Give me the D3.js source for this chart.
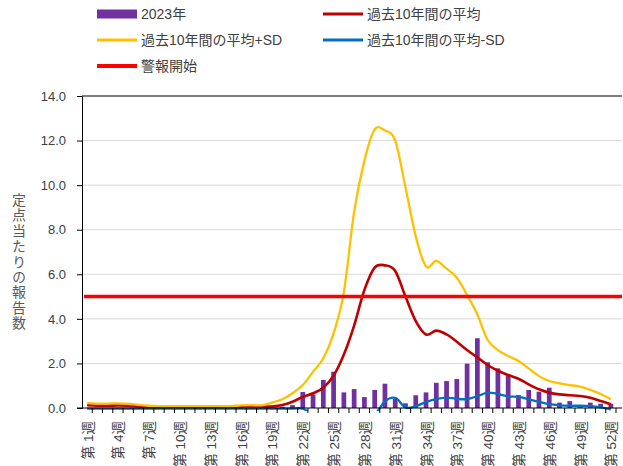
<!DOCTYPE html>
<html>
<head>
<meta charset="utf-8">
<script src="https://cdn.jsdelivr.net/npm/d3@7"></script>
<style>
  body { margin: 0; background: #fff; }
  text { font-family: "Liberation Sans", "Noto Sans CJK JP", sans-serif; }
</style>
</head>
<body>
<div id="chart"></div>
<script>
// weeks 1..52
const weeks = [1,2,3,4,5,6,7,8,9,10,11,12,13,14,15,16,17,18,19,20,21,22,23,24,25,26,
  27,28,29,30,31,32,33,34,35,36,37,38,39,40,41,42,43,44,45,46,47,48,49,50,51,52];
const tickWeeks = [1,4,7,10,13,16,19,22,25,28,31,34,37,40,43,46,49,52];
const yTicks = [0,2,4,6,8,10,12,14];

// 2023 reports per sentinel site (bars)
const cases2023 = [0,0,0,0,0,0,0,0,0,0,0,0,0,0,0,0,0,0,0.03,0.06,0.13,0.72,0.61,1.26,1.63,0.70,
  0.85,0.49,0.81,1.09,0.42,0.21,0.57,0.70,1.13,1.21,1.30,1.99,3.13,2.05,1.78,1.48,0.58,0.81,0.73,0.91,
  0.24,0.31,0.13,0.24,0.19,0.19];
// past 10 years mean
const avg10 = [0.12,0.10,0.10,0.11,0.10,0.07,0.04,0.04,0.04,0.04,0.04,0.04,0.04,0.04,0.05,0.06,0.07,0.06,
  0.07,0.13,0.28,0.50,0.66,0.91,1.45,2.4,3.7,5.3,6.3,6.4,6.15,5.0,3.9,3.3,3.47,3.3,2.97,2.6,2.27,1.93,
  1.67,1.48,1.31,1.06,0.84,0.69,0.61,0.57,0.54,0.46,0.31,0.17];
// mean + SD
const avgPlusSD = [0.22,0.20,0.20,0.21,0.19,0.14,0.10,0.08,0.08,0.08,0.08,0.08,0.08,0.08,0.08,0.12,0.13,0.12,
  0.24,0.39,0.66,1.03,1.63,2.23,3.35,5.2,8.8,11.1,12.5,12.45,12.0,9.9,7.7,6.35,6.6,6.25,5.85,5.07,4.2,3.05,
  2.6,2.33,2.11,1.78,1.43,1.21,1.10,1.03,0.96,0.81,0.63,0.39];
// mean - SD
const avgMinusSD = [-0.03,-0.03,-0.03,-0.03,-0.03,-0.03,-0.03,-0.03,-0.03,-0.03,-0.03,-0.03,-0.03,-0.03,-0.03,
  -0.03,-0.03,-0.03,-0.03,-0.03,-0.03,-0.03,-0.3,-0.4,-0.4,-0.6,-1.0,-0.5,-0.3,0.3,0.45,0.03,0.08,0.27,0.4,
  0.47,0.41,0.4,0.53,0.69,0.63,0.52,0.5,0.39,0.28,0.17,0.12,0.1,0.1,0.08,0.03,-0.06];
const alertLevel = 5.0;

const yTitle = '定点当たりの報告数';
const legendItems = [
  { label: "2023年", color: "#7030A0", type: "bar" },
  { label: "過去10年間の平均", color: "#C00000", type: "line" },
  { label: "過去10年間の平均+SD", color: "#FFC000", type: "line" },
  { label: "過去10年間の平均-SD", color: "#0070C0", type: "line" },
  { label: "警報開始", color: "#FF0000", type: "alert" }
];

let width = 623, height = 466;
let plotLeft = 82, plotRight = 616, gridRight = 622, plotTop = 96, plotBottom = 408;

let svg = d3.select('#chart').append('svg')
  .attr('width', width)
  .attr('height', height);

let x = d3.scaleBand().domain(weeks).range([plotLeft, plotRight]).padding(0);
let y = d3.scaleLinear().domain([0, 14]).range([plotBottom, plotTop]);

// gridlines
svg.append('g').selectAll('line')
  .data(yTicks.filter(d => d > 0 && d < 14))
  .enter().append('line')
  .attr('x1', plotLeft).attr('x2', gridRight)
  .attr('y1', d => y(d)).attr('y2', d => y(d))
  .attr('stroke', '#D9D9D9').attr('stroke-width', 1);

// top border
svg.append('line')
  .attr('x1', plotLeft).attr('x2', gridRight)
  .attr('y1', y(14)).attr('y2', y(14))
  .attr('stroke', '#000').attr('stroke-width', 1.2);

// y axis
let yAxis = d3.axisLeft(y).tickValues(yTicks).tickSize(5).tickFormat(d3.format('.1f'));
let gy = svg.append('g').attr('transform', `translate(${plotLeft},0)`).call(yAxis);
gy.select('.domain').attr('stroke', '#000');
gy.selectAll('.tick line').attr('stroke', '#000');
gy.selectAll('.tick text').attr('x', -16).attr('fill', '#404040')
  .style('font-size', '13px').style('font-family', '"Liberation Sans", sans-serif');

// bars
let barW = x.bandwidth() * 0.46;
svg.append('g').selectAll('rect')
  .data(weeks.map((w, i) => ({ w: w, v: cases2023[i] })))
  .enter().append('rect')
  .attr('x', d => x(d.w) + (x.bandwidth() - barW) / 2)
  .attr('width', barW)
  .attr('y', d => y(d.v))
  .attr('height', d => plotBottom - y(d.v))
  .attr('fill', '#7030A0');

// clip for lines
svg.append('clipPath').attr('id', 'plotclip')
  .append('rect').attr('x', plotLeft).attr('y', plotTop - 2)
  .attr('width', gridRight - plotLeft).attr('height', plotBottom - plotTop + 5);

let line = d3.line()
  .x((d, i) => x(weeks[i]) + x.bandwidth() / 2)
  .y(d => y(d))
  .curve(d3.curveCardinal.tension(0));

let lines = svg.append('g').attr('clip-path', 'url(#plotclip)');
[[avg10, '#C00000', 2.6], [avgPlusSD, '#FFC000', 2.3], [avgMinusSD, '#0070C0', 2.3]].forEach(s => {
  lines.append('path')
    .datum(s[0])
    .attr('d', line)
    .attr('fill', 'none')
    .attr('stroke', s[1])
    .attr('stroke-width', s[2])
    .attr('stroke-linejoin', 'round');
});

// x axis line + ticks between categories
svg.append('line')
  .attr('x1', plotLeft - 5).attr('x2', gridRight)
  .attr('y1', plotBottom).attr('y2', plotBottom)
  .attr('stroke', '#000').attr('stroke-width', 1);
svg.append('g').selectAll('line')
  .data(weeks)
  .enter().append('line')
  .attr('x1', d => x(d) + x.bandwidth()).attr('x2', d => x(d) + x.bandwidth())
  .attr('y1', plotBottom).attr('y2', plotBottom + 5)
  .attr('stroke', '#000');

// alert line
svg.append('line')
  .attr('x1', plotLeft + 2).attr('x2', gridRight)
  .attr('y1', y(alertLevel)).attr('y2', y(alertLevel))
  .attr('stroke', '#FF0000').attr('stroke-width', 3.5);

// x labels
svg.append('g').selectAll('text')
  .data(tickWeeks)
  .enter().append('text')
  .attr('transform', d => `translate(${x(d) + x.bandwidth() / 2 + 1},${plotBottom + 13}) rotate(-90)`)
  .attr('text-anchor', 'end')
  .attr('dominant-baseline', 'central')
  .attr('fill', '#404040')
  .style('font-size', '13.5px')
  .text(d => '第 ' + d + '週');

// y title, vertical writing
svg.append('text')
  .attr('x', 19).attr('y', 262)
  .attr('text-anchor', 'middle')
  .style('writing-mode', 'vertical-rl')
  .style('letter-spacing', '1.4px')
  .style('font-size', '14px')
  .style('font-family', '"Noto Sans CJK JP", sans-serif')
  .attr('fill', '#595959')
  .text(yTitle);

// legend
let legend = svg.append('g');
legendItems.forEach((d, i) => {
  let lx = i % 2 === 0 ? 97 : 323;
  let ly = 14 + Math.floor(i / 2) * 26;
  if (d.type === 'bar') {
    legend.append('rect').attr('x', lx).attr('y', ly - 4.5).attr('width', 40).attr('height', 9).attr('fill', d.color);
  } else {
    legend.append('line').attr('x1', lx).attr('x2', lx + 40).attr('y1', ly).attr('y2', ly)
      .attr('stroke', d.color).attr('stroke-width', d.type === 'alert' ? 4 : 3);
  }
  legend.append('text')
    .attr('x', lx + 44).attr('y', ly)
    .attr('dominant-baseline', 'central')
    .attr('fill', '#404040')
    .style('font-size', '14px')
    .text(d.label);
});
</script>
</body>
</html>
